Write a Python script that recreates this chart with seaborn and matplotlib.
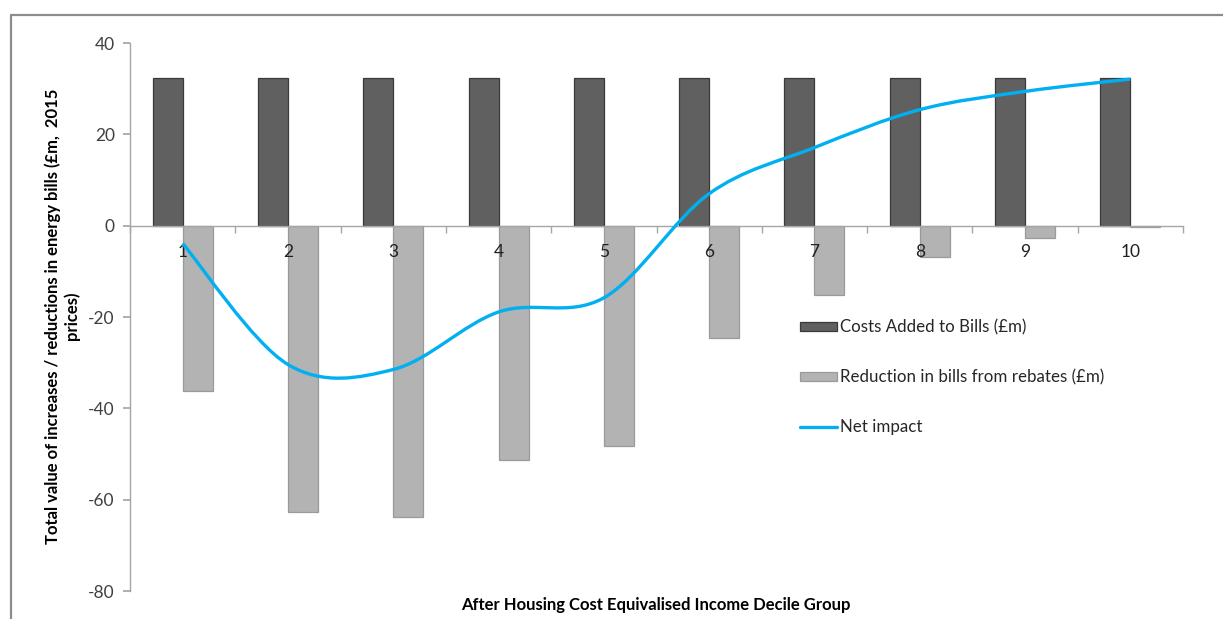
import matplotlib
matplotlib.use("Agg")
import matplotlib.pyplot as plt
import seaborn as sns
import pandas as pd
import numpy as np
from matplotlib.path import Path
from matplotlib.patches import PathPatch, Patch
from matplotlib.lines import Line2D

deciles = ["1", "2", "3", "4", "5", "6", "7", "8", "9", "10"]
costs_added = [32.3, 32.3, 32.3, 32.3, 32.3, 32.3, 32.3, 32.3, 32.3, 32.3]
rebates = [-36.3, -62.7, -63.8, -51.4, -48.3, -24.5, -15.1, -6.8, -2.8, -0.3]
net_impact = [-3.9, -30.4, -31.5, -18.9, -15.8, 7.0, 17.1, 25.4, 29.4, 32.1]
series_names = ["Costs Added to Bills (£m)", "Reduction in bills from rebates (£m)"]
net_name = "Net impact"
yticks = [-80, -60, -40, -20, 0, 20, 40]
ylabel = "Total value of increases / reductions in energy bills (£m,  2015\nprices)"
xlabel = "After Housing Cost Equivalised Income Decile Group"

sns.set_theme(style="white")
plt.rcParams['font.family'] = ['Lato', 'DejaVu Sans']

df = pd.DataFrame({
    "decile": deciles * 2,
    "series": [series_names[0]] * len(deciles) + [series_names[1]] * len(deciles),
    "value": costs_added + rebates,
})

W, H = 1223, 619
fig = plt.figure(figsize=(W / 100, H / 100), dpi=100)
ax = fig.add_axes([130 / W, 1 - 591 / H, (1183 - 130) / W, (591 - 43) / H])

dark, light = "#606060", "#b3b3b3"
sns.barplot(data=df, x="decile", y="value", hue="series", order=deciles,
            hue_order=series_names, palette=[dark, light], width=0.57,
            dodge=True, ax=ax, legend=False, saturation=1)
for bar in ax.patches:
    if bar.get_height() >= 0:
        bar.set_edgecolor("#3a3a3a")
    else:
        bar.set_edgecolor("#9a9a9a")
    bar.set_linewidth(0.9)
    bar.set_zorder(2)

# Smoothed net-impact line (Catmull-Rom style Bezier, as in spreadsheet smoothing)
xs = np.arange(len(net_impact), dtype=float)
ys = np.array(net_impact, dtype=float)
pts = np.column_stack([xs, ys])
verts = [tuple(pts[0])]
codes = [Path.MOVETO]
n = len(pts)
for i in range(n - 1):
    p0 = pts[max(i - 1, 0)]
    p1 = pts[i]
    p2 = pts[i + 1]
    p3 = pts[min(i + 2, n - 1)]
    c1 = p1 + (p2 - p0) / 6.0
    c2 = p2 - (p3 - p1) / 6.0
    verts += [tuple(c1), tuple(c2), tuple(p2)]
    codes += [Path.CURVE4] * 3
line_color = "#00b0f0"
ax.add_patch(PathPatch(Path(verts, codes), facecolor="none", edgecolor=line_color,
                       lw=2.4, transform=ax.transData, zorder=6, capstyle="butt"))

ax.set_xlim(-0.5, 9.5)
ax.set_ylim(-80, 40)
ax.set_yticks(yticks)
ax.set_yticklabels([str(t) for t in yticks], fontsize=12.5, color="#404040")

for s in ["top", "right"]:
    ax.spines[s].set_visible(False)
ax.spines["left"].set_color("#a6a6a6")
ax.spines["bottom"].set_color("#a6a6a6")
ax.spines["left"].set_linewidth(1.0)
ax.spines["bottom"].set_linewidth(1.0)
ax.spines["bottom"].set_position(("data", 0))
ax.spines["bottom"].set_zorder(3)
ax.tick_params(axis="y", direction="out", length=5, color="#a6a6a6", left=True, pad=6)
ax.set_xticks(range(len(deciles)))
ax.set_xticklabels(deciles, fontsize=12.5, color="#202020")
ax.tick_params(axis="x", which="major", length=0, pad=13, bottom=True)
ax.set_xticks(np.arange(-0.5, 10.0, 1.0), minor=True)
ax.tick_params(axis="x", which="minor", direction="out", length=5, color="#a6a6a6", bottom=True)
ax.xaxis.set_zorder(4)
ax.set_xlabel("")
ax.set_ylabel("")

fig.text(656 / W, 1 - 605 / H, xlabel, ha="center", va="center",
         fontsize=12, fontweight="bold", color="black")
fig.text(62 / W, 1 - 316 / H, ylabel, ha="center", va="center", rotation=90,
         fontsize=12, fontweight="bold", color="black", linespacing=1.15, multialignment="center")

handles = [Patch(facecolor=dark, edgecolor="#3a3a3a", lw=0.9),
           Patch(facecolor=light, edgecolor="#9a9a9a", lw=0.9),
           Line2D([0], [0], color=line_color, lw=2.4)]
fig.legend(handles, series_names + [net_name], loc="upper left",
           bbox_to_anchor=(800 / W, 1 - 319 / H), frameon=False, fontsize=12.2,
           handlelength=2.2, handleheight=0.45, handletextpad=0.15, labelspacing=2.0,
           borderpad=0, borderaxespad=0)

fig.add_artist(Line2D([11 / W, 11 / W], [0, 1 - 15 / H], transform=fig.transFigure,
                      color="#8c8c8c", lw=1.6))
fig.add_artist(Line2D([11 / W, 1], [1 - 15 / H, 1 - 15 / H], transform=fig.transFigure,
                      color="#8c8c8c", lw=1.6))

fig.savefig("out.png", dpi=100)
